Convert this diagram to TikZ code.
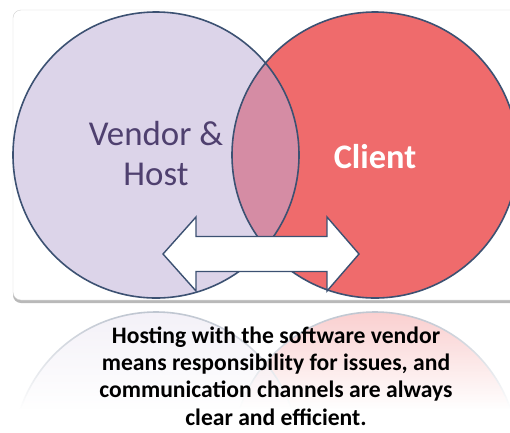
\documentclass[tikz,border=0pt]{standalone}
\usepackage{fontspec}
\setmainfont{Carlito}
\usetikzlibrary{fadings}
\definecolor{lav}{HTML}{DCD4E9}
\definecolor{coral}{HTML}{EF6B6C}
\definecolor{mauve}{HTML}{D58CA4}
\definecolor{edge}{HTML}{3C5172}
\definecolor{vtext}{HTML}{4F406F}
\tikzfading[name=reflfade, top color=transparent!35, bottom color=transparent!0]
\tikzset{
  ring/.style={draw=edge, line width=1.6},
  dblarrow/.style={fill=white, draw=edge, line width=1.4, line join=miter},
  lbl/.style={inner sep=0pt, anchor=base}
}
\begin{document}
\begin{tikzpicture}[x=1bp,y=-1bp]
\clip (0,0) rectangle (510,432);
\fill[white] (0,0) rectangle (510,432);
% frame
\fill[gray!55, rounded corners=8] (13,12) rectangle (525,303);
\filldraw[fill=white, draw=gray!35, rounded corners=8] (13,10) rectangle (525,300);
% reflection
\begin{scope}
  \clip (0,304) rectangle (510,408);
  \fill[lav] (156,455) circle (143);
  \fill[coral] (375,455) circle (143);
  \begin{scope}
    \clip (156,455) circle (143);
    \fill[mauve] (375,455) circle (143);
  \end{scope}
  \draw[ring] (156,455) circle (143) (375,455) circle (143);
  \fill[white, path fading=reflfade] (0,303.5) rectangle (510,409);
\end{scope}
% venn
\fill[lav] (156,155) circle (143);
\fill[coral] (375,155) circle (143);
\begin{scope}
  \clip (156,155) circle (143);
  \fill[mauve] (375,155) circle (143);
\end{scope}
\draw[ring] (156,155) circle (143) (375,155) circle (143);
% double arrow
\filldraw[dblarrow] (163,254) -- (196,217) -- (196,236.5) -- (327,236.5) -- (327,217)
  -- (359,254) -- (327,291) -- (327,271.5) -- (196,271.5) -- (196,291) -- cycle;
% labels
\node[lbl, font=\fontsize{35}{40}\selectfont, text=vtext, align=center] (vh) at (156,185) {Vendor \&\\Host};
\node[lbl, font=\bfseries\fontsize{34.5}{40}\selectfont, text=white] (cl) at (375,168) {Client};
\node[lbl, font=\bfseries\fontsize{23.7}{27.2}\selectfont, align=center] (cap) at (276,425)
  {Hosting with the software vendor\\means responsibility for issues, and\\communication channels are always\\clear and efficient.};
\end{tikzpicture}
\end{document}
